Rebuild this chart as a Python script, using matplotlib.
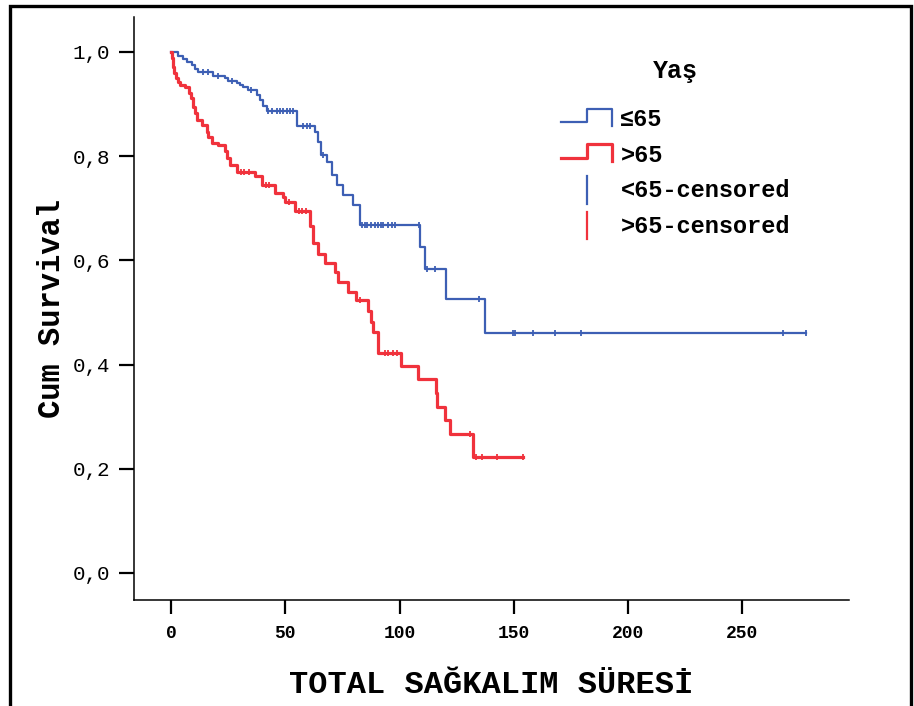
import numpy as np
import matplotlib
matplotlib.use('Agg')
import matplotlib.pyplot as plt
from matplotlib.lines import Line2D
from matplotlib.patches import Rectangle
from matplotlib.legend_handler import HandlerBase
from matplotlib.ticker import FuncFormatter

plt.rcParams['font.family'] = ['Liberation Mono', 'DejaVu Sans Mono']

# Kaplan-Meier estimates (time, cumulative survival)
young_t = [0, 3.2, 5.4, 6.9, 9.0, 10.5, 12.0, 18.5, 23.6, 25.0, 28.7, 30.2, 31.6, 33.8,
           37.5, 38.9, 40.4, 41.9, 55.1, 63.0, 64.3, 65.6, 68.2, 70.4, 72.6, 75.2, 79.6,
           82.7, 108.9, 111.1, 120.2, 137.4]
young_s = [1.0, 0.992, 0.986, 0.980, 0.974, 0.968, 0.961, 0.953, 0.949, 0.944, 0.941, 0.937,
           0.932, 0.926, 0.917, 0.907, 0.897, 0.886, 0.858, 0.846, 0.827, 0.802, 0.789, 0.764,
           0.745, 0.726, 0.706, 0.668, 0.625, 0.583, 0.526, 0.461]
young_cens = [14.0, 16.0, 20.5, 26.5, 35.0, 42.4, 44.2, 46.4, 47.7, 49.0, 50.7, 52.0, 53.4,
              57.7, 59.5, 60.8, 66.5, 83.6, 84.9, 85.7, 87.5, 89.2, 90.6, 91.8, 92.7, 94.9,
              96.6, 97.9, 108.5, 112.2, 115.7, 134.7, 149.5, 150.5, 158.2, 168.1, 179.4,
              267.7, 277.8]

old_t = [0, 0.6, 1.0, 1.5, 2.2, 2.9, 3.9, 6.1, 7.9, 8.7, 9.8, 10.5, 11.2, 13.4, 15.6, 16.3,
         17.8, 20.7, 23.6, 24.4, 25.8, 28.7, 36.7, 39.7, 45.5, 49.1, 49.9, 54.2, 60.8, 62.3,
         64.4, 67.4, 71.7, 73.2, 77.4, 81.0, 86.3, 87.5, 88.5, 90.4, 100.6, 107.9, 115.8,
         116.2, 119.9, 122.0, 132.3]
old_s = [1.0, 0.988, 0.972, 0.959, 0.949, 0.943, 0.937, 0.933, 0.921, 0.911, 0.895, 0.882,
         0.869, 0.860, 0.847, 0.837, 0.825, 0.821, 0.809, 0.796, 0.783, 0.770, 0.761, 0.745,
         0.729, 0.722, 0.711, 0.695, 0.665, 0.633, 0.612, 0.594, 0.578, 0.559, 0.540, 0.524,
         0.503, 0.482, 0.463, 0.423, 0.398, 0.372, 0.345, 0.319, 0.294, 0.266, 0.223]
old_cens = [30.5, 32.0, 34.0, 41.5, 43.0, 51.5, 56.0, 57.5, 59.0, 82.5, 93.6, 95.1, 97.0,
            98.7, 130.8, 133.4, 135.9, 142.7, 154.1]

labels = ['\u226465', '>65', '<65-censored', '>65-censored']
blue = '#3d5fb4'
red = '#f0323c'


def surv_at(times, surv, c):
    idx = np.searchsorted(times, c, side='right') - 1
    return np.asarray(surv)[idx]


class StepHandler(HandlerBase):
    def create_artists(self, legend, orig_handle, xdescent, ydescent, width, height, fontsize, trans):
        x0, y0 = -xdescent, -ydescent
        xs = [x0, x0 + width * 0.5, x0 + width * 0.5, x0 + width, x0 + width]
        ys = [y0 + height * 0.3, y0 + height * 0.3, y0 + height * 0.95, y0 + height * 0.95, y0 + height * 0.15]
        return [Line2D(xs, ys, color=orig_handle.get_color(), lw=orig_handle.get_linewidth(), transform=trans)]


class TickHandler(HandlerBase):
    def create_artists(self, legend, orig_handle, xdescent, ydescent, width, height, fontsize, trans):
        x0, y0 = -xdescent, -ydescent
        xc = x0 + width * 0.5
        return [Line2D([xc, xc], [y0 - height * 0.2, y0 + height * 1.1], color=orig_handle.get_color(),
                       lw=1.6, transform=trans)]


fig = plt.figure(figsize=(9.14, 7.06), dpi=100)
ax = fig.add_axes([0.1466, 0.1501, 0.7823, 0.8258])

t_end = max(young_cens)
l1, = ax.plot(list(young_t) + [t_end], list(young_s) + [young_s[-1]], drawstyle='steps-post',
              color=blue, lw=1.6)
t_end = max(old_cens)
l2, = ax.plot(list(old_t) + [t_end], list(old_s) + [old_s[-1]], drawstyle='steps-post',
              color=red, lw=2.3)
c1, = ax.plot(young_cens, surv_at(young_t, young_s, young_cens), ls='none', marker='|',
              ms=5, mew=1.3, color=blue)
c2, = ax.plot(old_cens, surv_at(old_t, old_s, old_cens), ls='none', marker='|',
              ms=5, mew=1.3, color=red)

ax.set_xlim(-16.2, 296.6)
ax.set_ylim(-0.052, 1.067)
ax.set_xticks([0, 50, 100, 150, 200, 250])
ax.set_yticks([0, 0.2, 0.4, 0.6, 0.8, 1.0])
ax.yaxis.set_major_formatter(FuncFormatter(lambda v, p: f'{v:.1f}'.replace('.', ',')))
for s in ['top', 'right']:
    ax.spines[s].set_visible(False)
for s in ['left', 'bottom']:
    ax.spines[s].set_linewidth(1.1)
ax.tick_params(axis='y', direction='out', length=11, width=1.6, pad=6, labelsize=15)
ax.tick_params(axis='x', direction='out', length=10, width=1.6, pad=8, labelsize=13)
for lb in ax.get_xticklabels():
    lb.set_fontweight('bold')

ax.set_xlabel('TOTAL SAĞKALIM SÜRESİ', fontsize=23, fontweight='bold', labelpad=20)
ax.set_ylabel('Cum Survival', fontsize=22, fontweight='bold', labelpad=4)

leg = ax.legend([l1, l2, c1, c2], labels, title='Yaş', loc='upper left',
                bbox_to_anchor=(0.568, 0.965), frameon=False,
                prop={'weight': 'bold', 'size': 17},
                title_fontproperties={'weight': 'bold', 'size': 18},
                handlelength=2.15, handleheight=1.0, labelspacing=0.5, handletextpad=0.35,
                handler_map={l1: StepHandler(), l2: StepHandler(), c1: TickHandler(), c2: TickHandler()})
leg._legend_box.sep = 18

# outer frame
fig.patches.append(Rectangle((10 / 914, -0.02), 901 / 914, 1.02 - 6 / 706, transform=fig.transFigure,
                             fill=False, edgecolor='black', lw=2.4, clip_on=False))

fig.savefig('out.png', dpi=100)
